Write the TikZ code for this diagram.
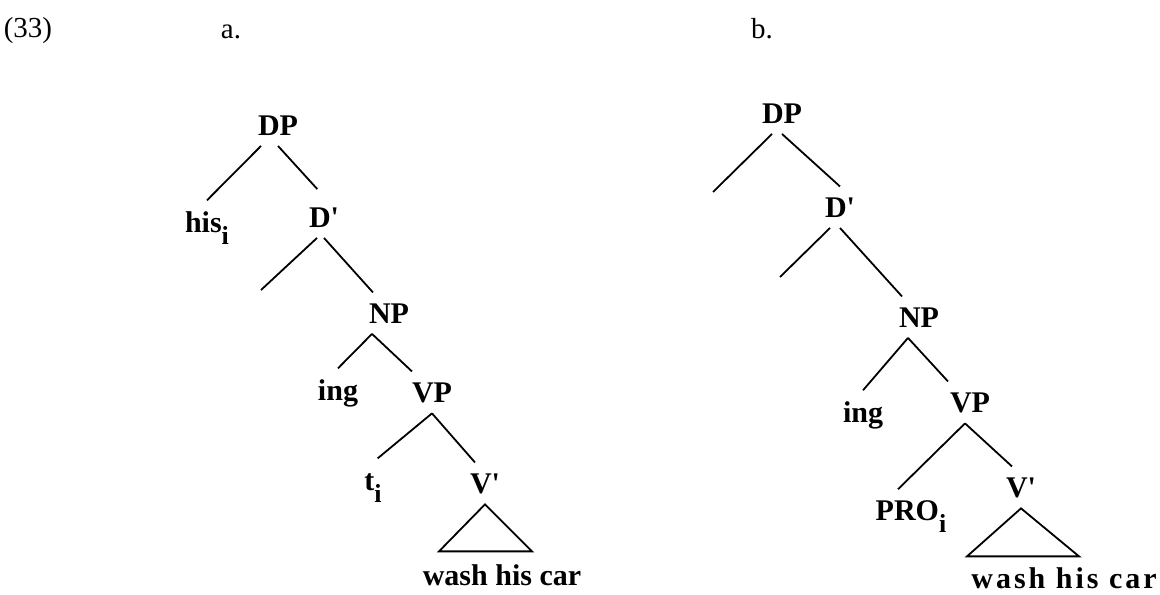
\documentclass[tikz,border=0pt]{standalone}
\usepackage{fontspec}
\setmainfont{Liberation Serif}
\newcommand{\idx}[1]{\raisebox{-6pt}{\fontsize{13pt}{13pt}\selectfont #1}}

\begin{document}
\begin{tikzpicture}[x=0.5pt,y=-0.5pt,line width=0.9pt,
                    every edge/.style={draw,line width=0.9pt}]
  \tikzstyle{cat}=[anchor=base,inner sep=5pt,font=\fontsize{15pt}{18pt}\selectfont\bfseries]
  \tikzstyle{lbl}=[anchor=base,inner sep=0pt,font=\fontsize{14.5pt}{17pt}\selectfont]
  \tikzstyle{yield}=[cat,font=\fontsize{15pt}{18pt}\selectfont\bfseries\addfontfeature{LetterSpace=10}]

  \useasboundingbox (0,0) rectangle (1160,594);

  \node[lbl]   (EX)   at (28,37)   {(33)};
  \node[lbl]   (LA)   at (231,38)  {a.};
  \node[lbl]   (LB)   at (762,38)  {b.};

  \node[cat]   (DPa)  at (278,135) {DP};
  \node[cat]   (HISa) at (207,232) {his\idx{i}};
  \node[cat]   (Da)   at (324,227) {D\textquotesingle};
  \coordinate  (Ea)   at (261,290);
  \node[cat]   (NPa)  at (389,323) {NP};
  \node[cat]   (INGa) at (338,400) {ing};
  \node[cat]   (VPa)  at (432,402) {VP};
  \node[cat]   (Ta)   at (373,490) {t\idx{i}};
  \node[cat]   (Va)   at (485,493) {V\textquotesingle};
  \node[cat]   (Wa)   at (502,585) {wash his car};

  \node[cat]   (DPb)  at (782,123) {DP};
  \coordinate  (E1b)  at (713,192);
  \node[cat]   (Db)   at (840,217) {D\textquotesingle};
  \coordinate  (E2b)  at (780,277);
  \node[cat]   (NPb)  at (919,327) {NP};
  \node[cat]   (INGb) at (863,422) {ing};
  \node[cat]   (VPb)  at (970,412) {VP};
  \node[cat]   (PROb) at (911,520) {PRO\idx{i}};
  \node[cat]   (Vb)   at (1021,497) {V\textquotesingle};
  \node[yield] (Wb)   at (1064,588) {wash his car};

  \path ([xshift=-8.5pt]DPa.south) edge                 (HISa.north)
        (DPa.south)                edge [shorten >=5pt] (Da.north)
        ([xshift=-3.5pt]Da.south)  edge                 (Ea)
        (Da.south)                 edge                 ([xshift=-8pt]NPa.north)
        ([xshift=-8.5pt]NPa.south) edge                 (INGa.north)
                                   edge                 ([xshift=-10pt]VPa.north)
        (VPa.south)                edge [shorten >=3pt] (Ta.north)
                                   edge                 ([xshift=-5pt]Va.north);
  \draw (Va.south) -- ++(-46,47) -- ++(93,0) -- cycle;

  \path ([xshift=-5pt]DPb.south)   edge                 (E1b)
        (DPb.south)                edge                 (Db.north)
        ([xshift=-5pt]Db.south)    edge                 (E2b)
        (Db.south)                 edge                 ([xshift=-8.5pt]NPb.north)
        ([xshift=-5.5pt]NPb.south) edge                 (INGb.north)
                                   edge                 ([xshift=-11pt]VPb.north)
        ([xshift=-2.5pt]VPb.south) edge                 ([xshift=-6.5pt]PROb.north)
                                   edge                 ([xshift=-4.5pt]Vb.north);
  \draw (Vb.south) -- ++(-54,48) -- ++(112,0) -- cycle;
\end{tikzpicture}
\end{document}
